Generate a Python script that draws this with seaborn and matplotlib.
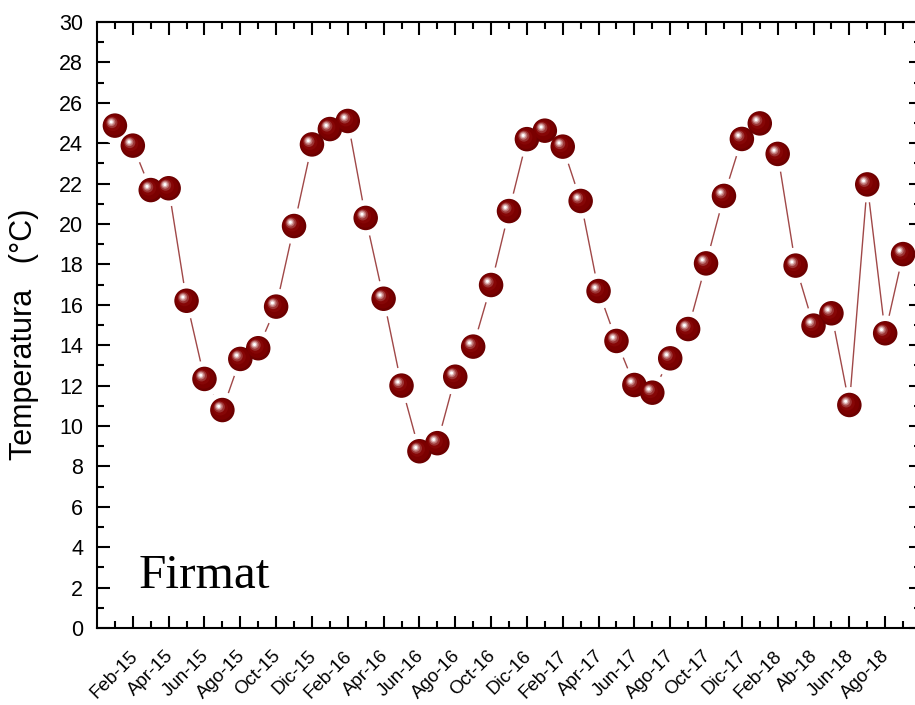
import matplotlib
matplotlib.use("Agg")
import matplotlib.pyplot as plt
import matplotlib.transforms as mtransforms
from matplotlib.ticker import FixedLocator, MultipleLocator
import numpy as np
import pandas as pd
import seaborn as sns

# Monthly mean temperature, Jan-15 .. Sep-18
months = [
    "Ene-15", "Feb-15", "Mar-15", "Apr-15", "May-15", "Jun-15", "Jul-15", "Ago-15",
    "Sep-15", "Oct-15", "Nov-15", "Dic-15",
    "Ene-16", "Feb-16", "Mar-16", "Apr-16", "May-16", "Jun-16", "Jul-16", "Ago-16",
    "Sep-16", "Oct-16", "Nov-16", "Dic-16",
    "Ene-17", "Feb-17", "Mar-17", "Apr-17", "May-17", "Jun-17", "Jul-17", "Ago-17",
    "Sep-17", "Oct-17", "Nov-17", "Dic-17",
    "Ene-18", "Feb-18", "Mar-18", "Ab-18", "May-18", "Jun-18", "Jul-18", "Ago-18",
    "Sep-18",
]
temperatura = [
    24.87, 23.88, 21.68, 21.77, 16.20, 12.33, 10.79, 13.32, 13.85, 15.91, 19.90, 23.94,
    24.70, 25.10, 20.30, 16.30, 12.00, 8.75, 9.15, 12.44, 13.93, 16.98, 20.64, 24.20,
    24.62, 23.83, 21.14, 16.68, 14.21, 12.03, 11.65, 13.35, 14.80, 18.05, 21.39, 24.21,
    24.98, 23.47, 17.94, 14.97, 15.58, 11.04, 21.96, 14.59, 18.51,
]
# Every second month carries a label on the x axis
tick_labels = months[1::2]

df = pd.DataFrame({"mes": np.arange(len(months)), "temp": temperatura})

sns.set_style("ticks")
plt.rcParams["font.family"] = ["Liberation Sans", "DejaVu Sans"]
plt.rcParams["text.color"] = "black"
plt.rcParams["axes.labelcolor"] = "black"

fig = plt.figure(figsize=(9.15, 7.05), dpi=100)
ax = fig.add_axes([97 / 915, 77 / 705, 824 / 915, 606 / 705])

# thin connecting line
sns.lineplot(data=df, x="mes", y="temp", ax=ax, color="#a04848", lw=1.0,
             sort=False, zorder=1)

PX = 0.72  # points per pixel at 100 dpi


def shifted(dx, dy):
    return ax.transData + mtransforms.ScaledTranslation(dx / 100, dy / 100,
                                                        fig.dpi_scale_trans)


# white halo keeps the line clear of each marker
sns.scatterplot(data=df, x="mes", y="temp", ax=ax, s=(36 * PX) ** 2,
                color="white", edgecolor="none", linewidth=0, zorder=2,
                legend=False)

# shaded sphere markers: dark body, then lighter layers toward the top-left
layers = [
    (24.5, 0.0, 0.0, "#6c0000"),
    (21.0, -0.8, 0.8, "#7b0000"),
    (15.0, -2.0, 2.0, "#860606"),
    (11.0, -3.0, 3.0, "#9c3434"),
    (8.0, -3.5, 3.5, "#bd7474"),
    (5.5, -3.7, 3.7, "#e0b8b8"),
    (3.0, -3.7, 3.7, "#ffffff"),
]
for i, (d, dx, dy, c) in enumerate(layers):
    sns.scatterplot(data=df, x="mes", y="temp", ax=ax, s=(d * PX) ** 2,
                    color=c, edgecolor="none", linewidth=0, zorder=3 + i * 0.01,
                    legend=False, transform=shifted(dx, dy))

ax.set_xlim(-1, 45)
ax.set_ylim(0, 30)

ax.xaxis.set_major_locator(FixedLocator(np.arange(1, len(months), 2)))
ax.xaxis.set_minor_locator(FixedLocator(np.arange(0, len(months), 2)))
ax.set_xticklabels(tick_labels, rotation=45, ha="right", rotation_mode="anchor",
                   fontsize=13.5)
ax.yaxis.set_major_locator(MultipleLocator(2))
ax.yaxis.set_minor_locator(MultipleLocator(1))
ax.tick_params(axis="y", labelsize=15.5, pad=10)
ax.tick_params(axis="x", pad=14)

ax.tick_params(which="both", direction="in", top=True, right=True,
               width=1.5, color="black", labelcolor="black")
ax.tick_params(which="major", length=9)
ax.tick_params(which="minor", length=5)

# nudge the slanted month labels so their ends sit under the ticks
nudge = mtransforms.ScaledTranslation(-4 / 100, 0, fig.dpi_scale_trans)
for lbl in ax.get_xticklabels():
    lbl.set_transform(lbl.get_transform() + nudge)

for sp in ax.spines.values():
    sp.set_linewidth(1.5)
    sp.set_color("black")

ax.set_xlabel("")
ax.set_ylabel("Temperatura   (°C)", fontsize=22)
ax.yaxis.set_label_coords(-0.07, 0.485)

ax.text(0.05, 0.066, "Firmat", transform=ax.transAxes, fontsize=35.5,
        family=["Liberation Serif", "DejaVu Serif"], ha="left", va="baseline")

fig.savefig("out.png", dpi=100)
